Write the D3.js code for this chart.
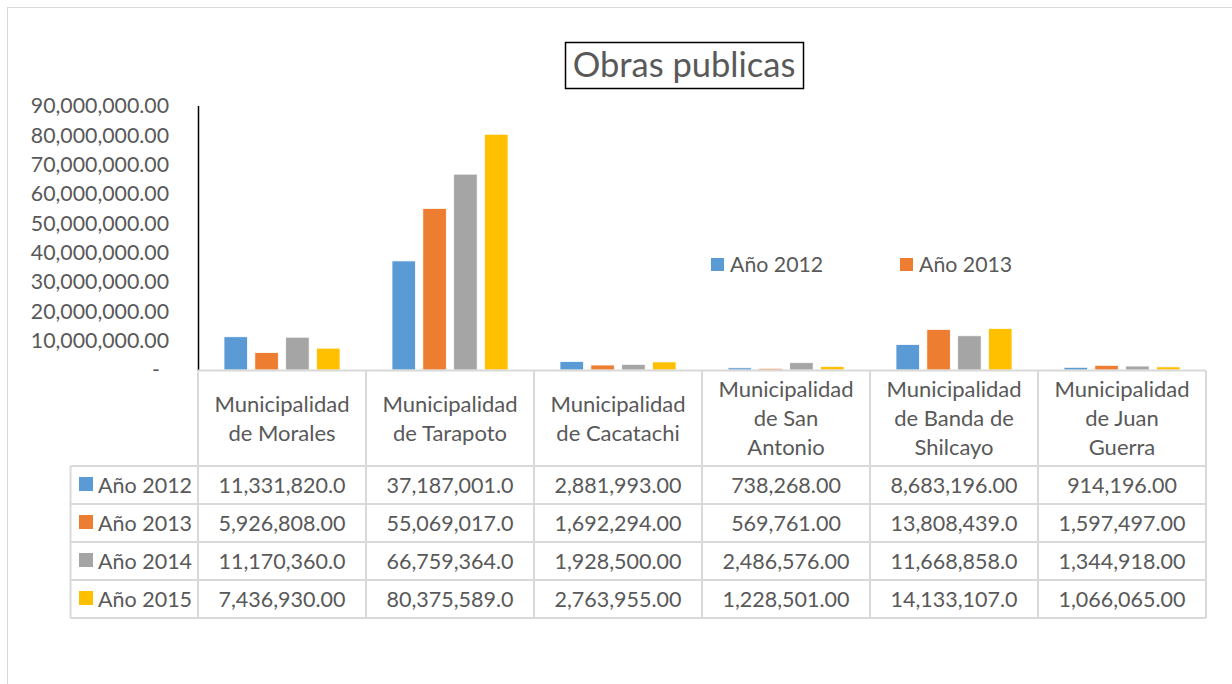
<!DOCTYPE html>
<html>
<head>
<meta charset="utf-8">
<script src="https://cdn.jsdelivr.net/npm/d3@7"></script>
<style>
  body { margin: 0; background: #fff; }
  svg { display: block; font-family: Lato, "Open Sans", sans-serif; }
</style>
</head>
<body>
<div id="chart"></div>
<script>
// categories (municipalities), each label split over lines as in the table header
const categories = [
  ["Municipalidad", "de Morales"],
  ["Municipalidad", "de Tarapoto"],
  ["Municipalidad", "de Cacatachi"],
  ["Municipalidad", "de San", "Antonio"],
  ["Municipalidad", "de Banda de", "Shilcayo"],
  ["Municipalidad", "de Juan", "Guerra"]
];
const seriesNames = ["Año 2012", "Año 2013", "Año 2014", "Año 2015"];
const values2012 = [11331820, 37187001, 2881993, 738268, 8683196, 914196];
const values2013 = [5926808, 55069017, 1692294, 569761, 13808439, 1597497];
const values2014 = [11170360, 66759364, 1928500, 2486576, 11668858, 1344918];
const values2015 = [7436930, 80375589, 2763955, 1228501, 14133107, 1066065];
const yTicks = [0, 10e6, 20e6, 30e6, 40e6, 50e6, 60e6, 70e6, 80e6, 90e6];
const legendShown = ["Año 2012", "Año 2013"];

const seriesValues = [values2012, values2013, values2014, values2015];
const colors = ["#5B9BD5", "#ED7D31", "#A5A5A5", "#FFC000"];
const textColor = "#595959";
const gridColor = "#D9D9D9";

const W = 1232, H = 684;
const svg = d3.select("#chart").append("svg").attr("width", W).attr("height", H);

// outer chart border
svg.append("rect")
  .attr("x", 7.5).attr("y", 7.5).attr("width", W + 10).attr("height", H + 10)
  .attr("fill", "none").attr("stroke", gridColor);

// title with box
const title = svg.append("g");
title.append("rect")
  .attr("x", 565.5).attr("y", 42.5).attr("width", 238).attr("height", 46)
  .attr("fill", "#fff").attr("stroke", "#000").attr("stroke-width", 1.5);
title.append("text")
  .attr("x", 684).attr("y", 77).attr("text-anchor", "middle")
  .attr("fill", textColor).style("font-size", "34.5px")
  .text("Obras publicas");

// scales
const catIdx = categories.map((d, i) => i);
const x0 = d3.scaleBand().domain(catIdx).range([198, 1206]).padding(0);
const x1 = d3.scaleBand().domain(d3.range(seriesNames.length))
  .range([26, 142]).paddingInner(0.24);
const y = d3.scaleLinear().domain([0, 90e6]).range([370, 106]);

// y axis labels (accounting style: zero shows "-")
const fmt = d3.format(",.2f");
svg.append("g").selectAll("text")
  .data(yTicks)
  .join("text")
  .attr("x", d => d === 0 ? 160 : 169)
  .attr("y", d => y(d))
  .attr("dy", "0.35em")
  .attr("text-anchor", "end")
  .attr("fill", textColor)
  .style("font-size", "21.3px")
  .text(d => d === 0 ? "-" : fmt(d));

// bars
const groups = svg.append("g").selectAll("g")
  .data(catIdx)
  .join("g")
  .attr("transform", d => `translate(${x0(d)},0)`);

groups.selectAll("rect")
  .data(c => seriesValues.map((vals, s) => ({ s, v: vals[c] })))
  .join("rect")
  .attr("x", d => x1(d.s))
  .attr("width", x1.bandwidth())
  .attr("y", d => y(d.v))
  .attr("height", d => y(0) - y(d.v))
  .attr("fill", d => colors[d.s])
  .attr("stroke", "#fff")
  .attr("stroke-width", 0.75);

// y axis line
svg.append("line")
  .attr("x1", 198.5).attr("x2", 198.5).attr("y1", 106).attr("y2", 371)
  .attr("stroke", "#000").attr("stroke-width", 1.5);

// legend
const legend = svg.append("g").selectAll("g")
  .data(legendShown)
  .join("g")
  .attr("transform", (d, i) => `translate(${711 + i * 189},258)`);
legend.append("rect")
  .attr("width", 13).attr("height", 13)
  .attr("fill", (d, i) => colors[i]);
legend.append("text")
  .attr("x", 19).attr("y", 14)
  .attr("fill", textColor).style("font-size", "21.3px")
  .text(d => d);

// data table
const table = svg.append("g");
const headTop = 370.5, headBottom = 466;
const rowH = 38;
const tableLeft = 70.5;
const rowTops = seriesNames.map((d, i) => headBottom + i * rowH);
const tableBottom = headBottom + seriesNames.length * rowH;

// cell text format: Excel cuts the display to the column width
const cellFmt = v => {
  const s = fmt(v);
  return s.length > 12 ? s.slice(0, 12) : s;
};

// header cells
const head = table.selectAll("g.head")
  .data(categories)
  .join("g")
  .attr("class", "head")
  .attr("transform", (d, i) => `translate(${x0(i) + x0.bandwidth() / 2},0)`);
head.append("text")
  .attr("text-anchor", "middle")
  .attr("fill", textColor)
  .style("font-size", "22px")
  .attr("y", d => (headTop + headBottom) / 2 + 8 - (d.length - 1) * 29 / 2)
  .selectAll("tspan")
  .data(d => d)
  .join("tspan")
  .attr("x", 0)
  .attr("dy", (d, i) => i === 0 ? 0 : 29)
  .text(d => d);

// row labels with swatches
const rowLabel = table.selectAll("g.rowlabel")
  .data(seriesNames)
  .join("g")
  .attr("class", "rowlabel")
  .attr("transform", (d, i) => `translate(0,${rowTops[i]})`);
rowLabel.append("rect")
  .attr("x", 79).attr("y", 11).attr("width", 14).attr("height", 14)
  .attr("fill", (d, i) => colors[i]);
rowLabel.append("text")
  .attr("x", 98).attr("y", 27)
  .attr("fill", textColor).style("font-size", "21.5px")
  .text(d => d);

// data cells
seriesValues.forEach((vals, s) => {
  table.append("g").selectAll("text")
    .data(vals)
    .join("text")
    .attr("x", (d, i) => x0(i) + x0.bandwidth() / 2)
    .attr("y", rowTops[s] + 27)
    .attr("text-anchor", "middle")
    .attr("fill", textColor)
    .style("font-size", "21.5px")
    .text(d => cellFmt(d));
});

// table grid lines
const grid = table.append("g").attr("stroke", gridColor).attr("stroke-width", 2);
// vertical lines for category columns
d3.range(categories.length + 1).forEach(i => {
  const xx = i < categories.length ? x0(i) : x0.range()[1];
  grid.append("line")
    .attr("x1", xx).attr("x2", xx)
    .attr("y1", i === 0 ? 372 : headTop).attr("y2", tableBottom);
});
// left edge of the legend column
grid.append("line")
  .attr("x1", tableLeft).attr("x2", tableLeft)
  .attr("y1", headBottom).attr("y2", tableBottom);
// horizontal lines
rowTops.concat([tableBottom]).forEach(yy => {
  grid.append("line")
    .attr("x1", tableLeft).attr("x2", x0.range()[1])
    .attr("y1", yy).attr("y2", yy);
});
// baseline / header top
grid.append("line")
  .attr("x1", 198).attr("x2", x0.range()[1])
  .attr("y1", headTop).attr("y2", headTop);
</script>
</body>
</html>
